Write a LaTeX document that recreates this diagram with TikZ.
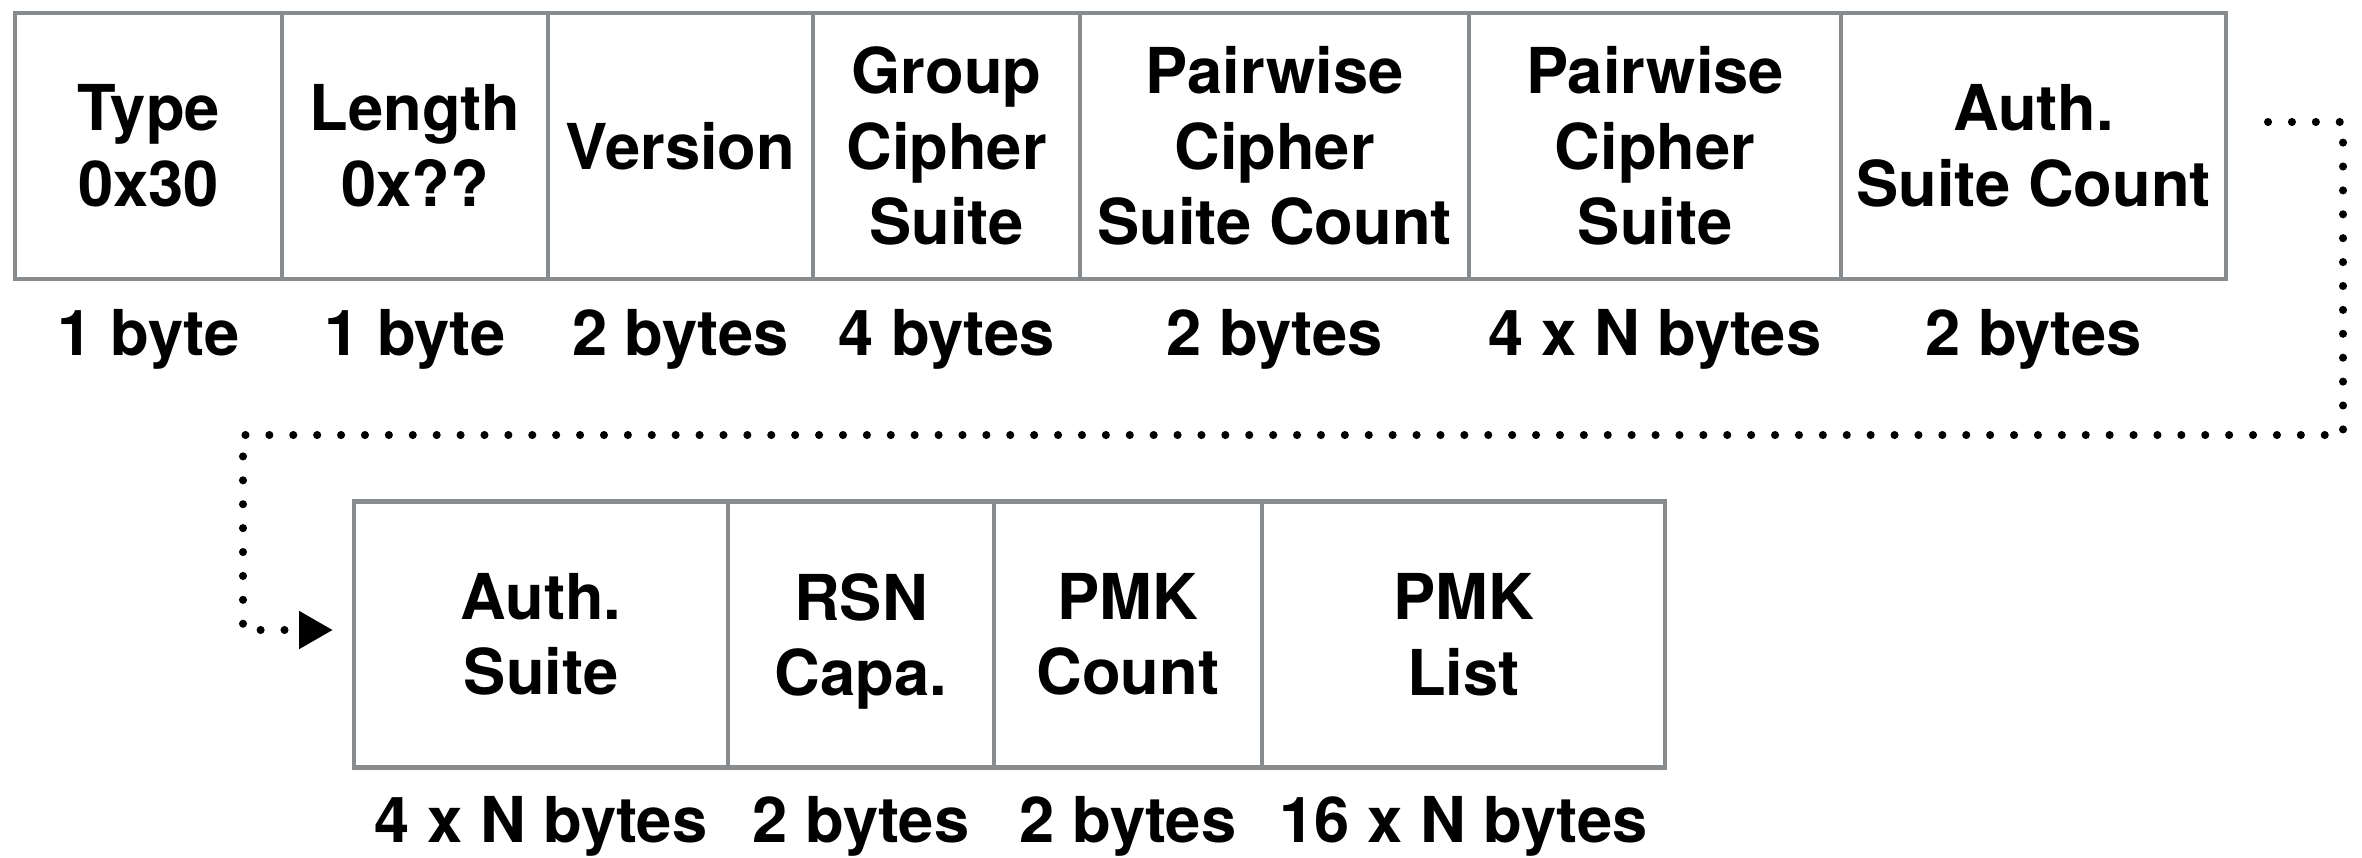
\documentclass[tikz,border=0pt]{standalone}
\usepackage{fontspec}
\setmainfont{TeX Gyre Heros}
\usepackage{xcolor}
\usepackage{tikz}
\usetikzlibrary{arrows.meta}
\usetikzlibrary{positioning}

\definecolor{boxgray}{RGB}{137,140,143}

\begin{document}
\begin{tikzpicture}[y=-1cm,
		field/.style = {draw=boxgray, line width=1.3pt, minimum height=2.66cm, inner sep=0pt, align=center, font=\fontsize{18}{21.5}\selectfont\bfseries},
		bytes/.style = {anchor=base, inner sep=0pt, font=\fontsize{18}{21.5}\selectfont\bfseries},
		wrap/.style = {line width=2.3pt, line cap=round, dash pattern=on 0pt off 6.8pt}]
		\useasboundingbox (0,0) rectangle (23.62,8.57);
		% first row of the RSN element
		\begin{scope}
			\node[field, minimum width=2.67cm] (type) at (1.485, 1.46) {Type\\0x30};
			\node[field, minimum width=2.66cm] (len) at (4.15, 1.46) {Length\\0x??};
			\node[field, minimum width=2.65cm] (ver) at (6.805, 1.46) {Version};
			\node[field, minimum width=2.67cm] (group) at (9.465, 1.46) {Group\\Cipher\\Suite};
			\node[field, minimum width=3.89cm] (pcount) at (12.745, 1.46) {Pairwise\\Cipher\\Suite Count};
			\node[field, minimum width=3.72cm] (psuite) at (16.55, 1.46) {Pairwise\\Cipher\\Suite};
			\node[field, minimum width=3.85cm] (acount) at (20.335, 1.46) {Auth.\\Suite Count};
		\end{scope}
		\begin{scope}
			\node[bytes] (typeb) at (1.485, 3.55) {1 byte};
			\node[bytes] (lenb) at (4.15, 3.55) {1 byte};
			\node[bytes] (verb) at (6.805, 3.55) {2 bytes};
			\node[bytes] (groupb) at (9.465, 3.55) {4 bytes};
			\node[bytes] (pcountb) at (12.745, 3.55) {2 bytes};
			\node[bytes] (psuiteb) at (16.55, 3.55) {4 x N bytes};
			\node[bytes] (acountb) at (20.335, 3.55) {2 bytes};
		\end{scope}
		% second row
		\begin{scope}
			\node[field, minimum width=3.74cm] (asuite) at (5.41, 6.345) {Auth.\\Suite};
			\node[field, minimum width=2.66cm] (rsn) at (8.61, 6.345) {RSN\\\smash{Capa.}};
			\node[field, minimum width=2.68cm] (pmkc) at (11.28, 6.345) {PMK\\Count};
			\node[field, minimum width=4.03cm] (pmkl) at (14.635, 6.345) {PMK\\List};
		\end{scope}
		\begin{scope}
			\node[bytes] (asuiteb) at (5.41, 8.42) {4 x N bytes};
			\node[bytes] (rsnb) at (8.61, 8.42) {2 bytes};
			\node[bytes] (pmkcb) at (11.28, 8.42) {2 bytes};
			\node[bytes] (pmklb) at (14.635, 8.42) {16 x N bytes};
		\end{scope}
		\coordinate (wrapstart) at (22.68, 1.22);
		\coordinate (wrapend) at (3.33, 6.30);
		\begin{scope}[>={Triangle[length=3.4mm, width=3.6mm]}]
			\draw[wrap, ->] (wrapstart) -- (23.43, 1.22) |- (2.43, 4.35) |- (wrapend);
		\end{scope}
	\end{tikzpicture}
\end{document}
